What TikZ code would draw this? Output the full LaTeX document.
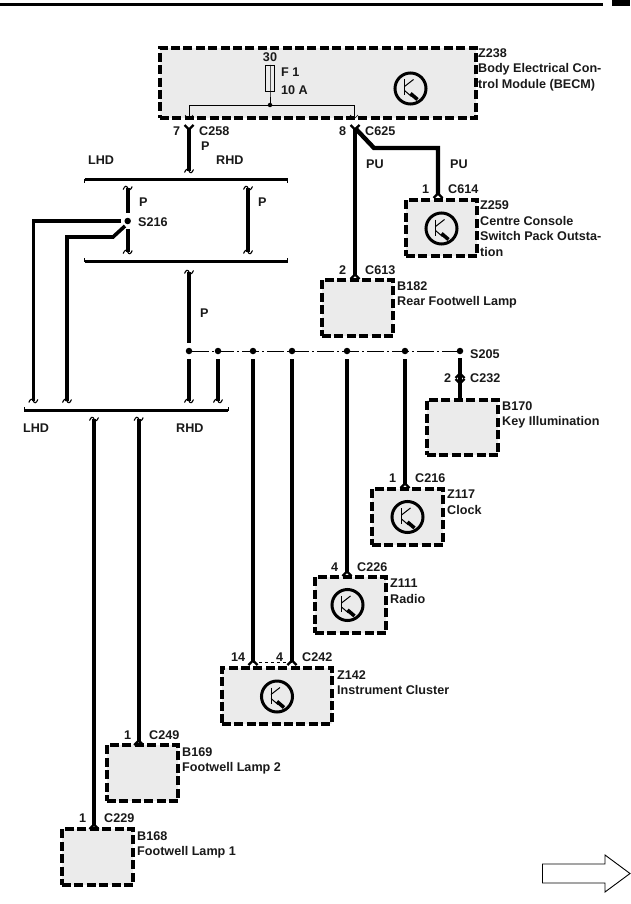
\documentclass[tikz,border=0pt]{standalone}
\usepackage{fontspec}
\setmainfont{Liberation Sans}
\definecolor{boxgray}{HTML}{EBEBEB}

\tikzset{
  lbl/.style={anchor=west, inner sep=0pt, align=left, text=black!90,
    font=\bfseries\fontsize{12.6}{15.4}\selectfont},
  ecu/.style={draw, line width=3.2, dash pattern=on 9 off 3.4, fill=boxgray,
    inner sep=0pt, outer sep=0pt},
  wire/.style={line width=3.6, line join=miter},
  fatwire/.style={line width=4.4},
  bus/.style={line width=2.6},
  thinwire/.style={line width=.9},
  splice/.style={circle, fill=black, inner sep=0pt, outer sep=0pt, minimum size=6.5},
  transistor/.pic={
    \draw[line width=3] (0,0) circle (15.5);
    \draw[line width=1] (-6,-9)--(-6,7);
    \draw[line width=1] (-6,-2)--(3,-9);
    \draw[line width=1] (-6,2)--(1,8);
    \draw[line width=3.6] (0,5)--(7,11);
  },
  brk/.pic={
    \draw[line width=1.1] (-4.5,1.5) .. controls (-3,-2.5) and (-1,-2.5) .. (0,0)
                                     .. controls (1,2.5) and (3,2.5) .. (4.5,-1.5);
  },
  forkdn/.pic={
    \draw[line width=2.4] (-4.5,3)--(0,-1.5)--(4.5,3);
  },
  forkup/.pic={
    \draw[line width=2.4] (-4.5,-3)--(0,1.5)--(4.5,-3);
  },
}

\begin{document}
\begin{tikzpicture}[x=1pt,y=-1pt]
  \useasboundingbox (0,0) rectangle (630,904);

  %% Page header
  \fill (0,3.3) rectangle (603,6.5);
  \fill (612,0) rectangle (630,6.5);

  %% Modules
  \node[ecu, minimum width=316, minimum height=70] (becm) at (318,83) {};
  \node[ecu, minimum width=71, minimum height=56] (z259) at (441.5,228) {};
  \node[ecu, minimum width=71, minimum height=56] (b182) at (357.5,308) {};
  \node[ecu, minimum width=71, minimum height=55] (b170) at (462.5,427.5) {};
  \node[ecu, minimum width=71, minimum height=56] (z117) at (407.5,517) {};
  \node[ecu, minimum width=71, minimum height=56] (z111) at (350.5,605) {};
  \node[ecu, minimum width=110, minimum height=56] (z142) at (277,696) {};
  \node[ecu, minimum width=71, minimum height=56] (b169) at (142.5,773) {};
  \node[ecu, minimum width=71, minimum height=56] (b168) at (97.5,857) {};

  \pic at (410.5,88.5) {transistor};
  \pic at (441.5,228.5) {transistor};
  \pic at (407.5,517) {transistor};
  \pic at (347.5,605) {transistor};
  \pic at (277,696.5) {transistor};

  %% Inside the BECM: fuse and feed
  \node[draw, line width=.9, minimum width=8.5, minimum height=26, inner sep=0pt] (fuse) at (270,78) {};
  \node[splice, minimum size=4.5] (feed) at (270,105) {};
  \coordinate (feedl) at (189,105);
  \coordinate (feedr) at (354,105);
  \coordinate (innl) at (189,119);
  \coordinate (innr) at (354,119);
  \draw[thinwire] (fuse.north)--(fuse.south)--(feed);
  \draw[thinwire] (innl)--(feedl)--(feedr)--(innr);
  \draw[line width=.7] (185,115)--(189,119)--(193,115);
  \draw[line width=.7] (350,115)--(354,119)--(358,115);

  %% Bus bars
  \coordinate (bus1l) at (84.5,179.5);
  \coordinate (bus1r) at (287.5,179.5);
  \coordinate (bus2l) at (84.5,261.5);
  \coordinate (bus2r) at (287.5,261.5);
  \coordinate (bus3l) at (24,410.5);
  \coordinate (bus3r) at (228,410.5);
  \draw[bus] (bus1l)--(bus1r);
  \draw[bus] (bus2l)--(bus2r);
  \draw[bus] (bus3l)--(bus3r);
  \draw[line width=1] (84.5,183)--(bus1l) (287.5,183)--(bus1r);
  \draw[line width=1] (84.5,258)--(bus2l) (287.5,258)--(bus2r);
  \draw[line width=1] (24,407)--(bus3l) (228,407)--(bus3r);

  %% Splices
  \node[splice] (s216) at (127.7,221) {};
  \node[splice] (s1) at (189,351) {};
  \node[splice] (s2) at (218,351) {};
  \node[splice] (s3) at (253,351) {};
  \node[splice] (s4) at (292,351) {};
  \node[splice] (s5) at (347,351) {};
  \node[splice] (s6) at (405,351) {};
  \node[splice] (s205) at (460,351) {};
  \coordinate (c232) at (460,378);
  \draw[line width=.9, dash pattern=on 17 off 3 on 2 off 3] (s1)--(s205);

  %% Pin and break points
  \coordinate (p7) at (189,128);
  \coordinate (p7b) at (189,171);
  \coordinate (p8) at (355,128);
  \coordinate (p2b) at (355,276);
  \coordinate (jog) at (374,148);
  \coordinate (jogr) at (438,148);
  \coordinate (p1c) at (438,195);
  \coordinate (a1) at (127.7,188);
  \coordinate (a2) at (127.7,252);
  \coordinate (b1) at (248,188);
  \coordinate (b2) at (248,252);
  \coordinate (l0) at (121,221);
  \coordinate (l1) at (33.3,221);
  \coordinate (l2) at (33.3,401);
  \coordinate (m00) at (125,226);
  \coordinate (m0) at (113,237);
  \coordinate (m1) at (67,237);
  \coordinate (m2) at (67,401);
  \coordinate (pt) at (189,272);
  \coordinate (pb) at (189,401);
  \coordinate (qb) at (218,401);
  \coordinate (d1) at (94,419);
  \coordinate (d2) at (94,826);
  \coordinate (e1) at (138.7,419);
  \coordinate (e2) at (138.7,742);
  \coordinate (p14) at (253,662);
  \coordinate (p4) at (292,662);
  \coordinate (p226) at (347,573);
  \coordinate (p216) at (405,485);

  %% Wires
  \draw[wire] (p7)--(p7b);
  \draw[fatwire] (p8)--(p2b);
  \draw[fatwire] (p8)--(jog)--(jogr)--(p1c);
  \draw[wire, shorten >=5] (a1)--(s216);
  \draw[wire, shorten <=5] (s216)--(a2);
  \draw[wire] (b1)--(b2);
  \draw[wire] (l0)--(l1)--(l2);
  \draw[wire] (m00)--(m0)--(m1)--(m2);
  \draw[wire, shorten >=5] (pt)--(s1);
  \draw[wire, shorten <=5] (s1)--(pb);
  \draw[fatwire, shorten <=5] (s2)--(qb);
  \draw[wire] (d1)--(d2);
  \draw[wire] (e1)--(e2);
  \draw[wire, shorten <=5] (s3)--(p14);
  \draw[wire, shorten <=5] (s4)--(p4);
  \draw[wire, shorten <=5] (s5)--(p226);
  \draw[wire, shorten <=5] (s6)--(p216);
  \draw[wire, shorten <=4] (s205)--(c232)--(b170.north -| c232);
  \draw[line width=.9, dashed] (p14)--(p4);

  %% Break marks and connector forks
  \foreach \bx/\by in {189/171,127.7/188,127.7/252,248/188,248/252,189/272,
                       33.3/401,67/401,189/401,218/401,94/419,138.7/419}{
    \pic at (\bx,\by) {brk};
  }
  \foreach \fx/\fy in {189/128,355/128,460/382}{
    \pic at (\fx,\fy) {forkup};
  }
  \foreach \fx/\fy in {438/195,355/276,405/485,347/573,253/662,292/662,138.7/742,94/826,460/375}{
    \pic at (\fx,\fy) {forkdn};
  }

  %% Labels
  \node[lbl, anchor=center] (t30) at (270,57) {30};
  \node[lbl] (tf1) at (281,72) {F 1};
  \node[lbl] (t10a) at (281,90) {10 A};
  \node[lbl, anchor=north west] (tz238) at (478,48.5) {Z238\\Body Electrical Con-\\trol Module (BECM)};
  \node[lbl] (t7) at (173,131) {7};
  \node[lbl] (tc258) at (199,131) {C258};
  \node[lbl] (t8) at (339,131) {8};
  \node[lbl] (tc625) at (365,131) {C625};
  \node[lbl] (tp1) at (201,146) {P};
  \node[lbl] (tlhd1) at (88,160) {LHD};
  \node[lbl] (trhd1) at (216,160) {RHD};
  \node[lbl] (tpu1) at (366,164) {PU};
  \node[lbl] (tpu2) at (450,164) {PU};
  \node[lbl] (t1a) at (422,189) {1};
  \node[lbl] (tc614) at (448,189) {C614};
  \node[lbl, anchor=north west] (tz259) at (480,201) {Z259\\Centre Console\\Switch Pack Outsta-\\tion};
  \node[lbl] (tp2) at (139,202) {P};
  \node[lbl] (tp3) at (258,202) {P};
  \node[lbl] (ts216) at (138,222) {S216};
  \node[lbl] (t2a) at (339,270) {2};
  \node[lbl] (tc613) at (365,270) {C613};
  \node[lbl, anchor=north west] (tb182) at (397,281) {B182\\Rear Footwell Lamp};
  \node[lbl] (tp4) at (200,313) {P};
  \node[lbl] (ts205) at (470,354) {S205};
  \node[lbl] (t2b) at (444,378) {2};
  \node[lbl] (tc232) at (470,378) {C232};
  \node[lbl, anchor=north west] (tb170) at (502,401) {B170\\Key Illumination};
  \node[lbl] (tlhd2) at (23,428) {LHD};
  \node[lbl] (trhd2) at (176,428) {RHD};
  \node[lbl] (t1b) at (389,478) {1};
  \node[lbl] (tc216) at (415,478) {C216};
  \node[lbl, anchor=north west] (tz117) at (447,490) {Z117\\Clock};
  \node[lbl] (t4a) at (331,567) {4};
  \node[lbl] (tc226) at (357,567) {C226};
  \node[lbl, anchor=north west] (tz111) at (390,579) {Z111\\Radio};
  \node[lbl] (t14) at (231,657) {14};
  \node[lbl] (t4b) at (276,657) {4};
  \node[lbl] (tc242) at (302,657) {C242};
  \node[lbl, anchor=north west] (tz142) at (337,670) {Z142\\Instrument Cluster};
  \node[lbl] (t1c) at (124,735) {1};
  \node[lbl] (tc249) at (149,735) {C249};
  \node[lbl, anchor=north west] (tb169) at (182,747) {B169\\Footwell Lamp 2};
  \node[lbl] (t1d) at (79,818) {1};
  \node[lbl] (tc229) at (104,818) {C229};
  \node[lbl, anchor=north west] (tb168) at (137,831) {B168\\Footwell Lamp 1};

  %% Next page arrow
  \draw[line width=.9, fill=white] (542.5,864)--(605,864)--(605,855)--(630,873.5)
        --(605,892)--(605,883)--(542.5,883)--cycle;
\end{tikzpicture}
\end{document}
